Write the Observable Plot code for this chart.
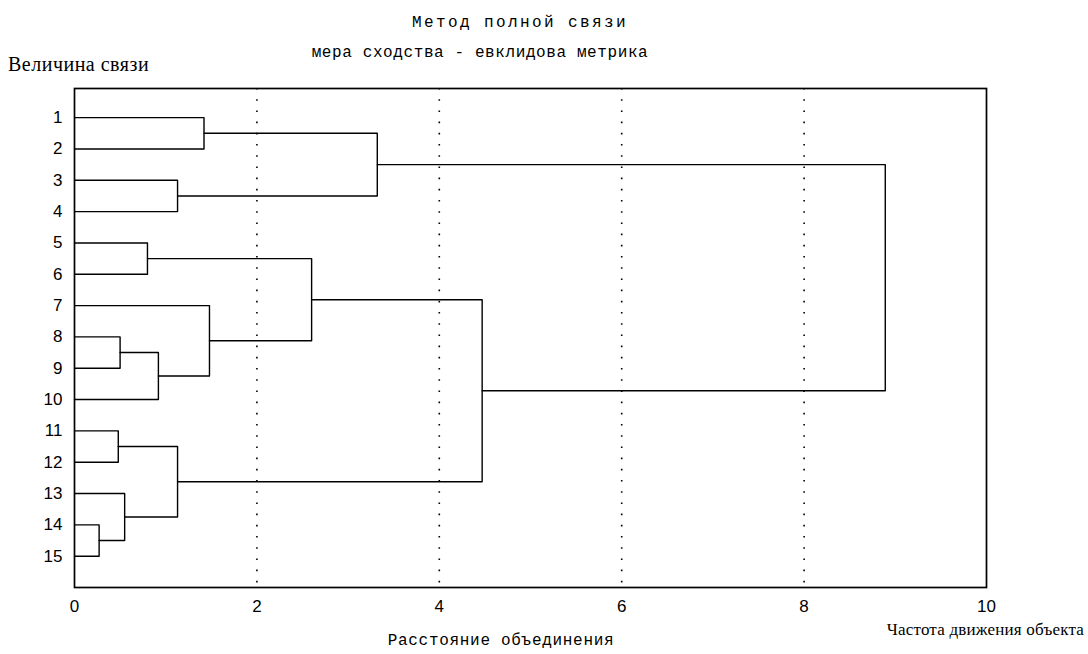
<!DOCTYPE html>
<html>
<head>
<meta charset="utf-8">
<script src="https://cdn.jsdelivr.net/npm/d3@7"></script>
<script src="https://cdn.jsdelivr.net/npm/@observablehq/plot@0.6"></script>
<style>
  html, body { margin: 0; padding: 0; background: #fff; }
  #chart { width: 1088px; height: 654px; }
</style>
</head>
<body>
<div id="chart"></div>
<script>
// Leaves (objects) listed top to bottom
const leaves = [1, 2, 3, 4, 5, 6, 7, 8, 9, 10, 11, 12, 13, 14, 15];
// Linkage steps: each joins two clusters (leaf number or "m<k>" for an earlier merge) at a distance
const mergeIds    = ["m1", "m2", "m3", "m4", "m5", "m6", "m7", "m8", "m9", "m10", "m11", "m12", "m13", "m14"];
const mergeLeft   = [8,    14,   11,   13,   5,    "m1", 3,    "m3", 1,    7,     "m5",  "m9",  "m11", "m12"];
const mergeRight  = [9,    15,   12,   "m2", 6,    10,   4,    "m4", 2,    "m6",  "m10", "m7",  "m8",  "m13"];
const mergeHeight = [0.50, 0.27, 0.48, 0.55, 0.80, 0.92, 1.13, 1.13, 1.42, 1.48,  2.60,  3.32,  4.47,  8.89];
const xTicks = [0, 2, 4, 6, 8, 10];
const gridX = [2, 4, 6, 8];

const title = "Метод полной связи";
const subtitle = "мера сходства - евклидова метрика";
const xLabel = "Расстояние объединения";
const yTitle = "Величина связи";
const xNote = "Частота движения объекта";

// Build dendrogram "U" shapes from the linkage
const nodes = new Map();
leaves.forEach((l, i) => nodes.set(l, {h: 0, y: i + 1}));
const segs = [];
mergeIds.forEach((id, k) => {
  const a = nodes.get(mergeLeft[k]), b = nodes.get(mergeRight[k]);
  const h = mergeHeight[k];
  segs.push({id, h: a.h, y: a.y});
  segs.push({id, h: h, y: a.y});
  segs.push({id, h: h, y: b.y});
  segs.push({id, h: b.h, y: b.y});
  nodes.set(id, {h, y: (a.y + b.y) / 2});
});

const plot = Plot.plot({
  width: 1088,
  height: 654,
  marginLeft: 74,
  marginRight: 102,
  marginTop: 88,
  marginBottom: 67,
  style: {fontFamily: "'Liberation Sans', Arial, sans-serif", fontSize: "17px", color: "#000", background: "#fff"},
  x: {domain: [0, 10]},
  y: {domain: [0.07, 16], reverse: true},
  marks: [
    Plot.ruleX(gridX, {stroke: "#000", strokeWidth: 1.6, strokeDasharray: "1.6,9.6"}),
    Plot.line(segs, {x: "h", y: "y", z: "id", stroke: "#000", strokeWidth: 1.4}),
    Plot.frame({stroke: "#000", strokeWidth: 1.7}),
    Plot.axisX({ticks: xTicks, tickSize: 0, tickPadding: 12, tickFormat: d => d, label: null, fontSize: 17}),
    Plot.axisY({ticks: leaves, tickSize: 0, tickPadding: 12, tickFormat: d => d, label: null, fontSize: 17})
  ]
});
document.getElementById("chart").appendChild(plot);

// Titles and notes, placed at baselines
const svg = d3.select(plot);
const mono = "'Liberation Mono', 'DejaVu Sans Mono', monospace";
const serif = "'Liberation Serif', 'DejaVu Serif', serif";
function addText(txt, x, y, anchor, family, size, spacing) {
  svg.append("text").text(txt)
    .attr("x", x).attr("y", y)
    .attr("text-anchor", anchor)
    .attr("font-family", family)
    .attr("font-size", size)
    .attr("letter-spacing", spacing)
    .attr("fill", "#000");
}
addText(title, 520, 27, "middle", mono, 16, 2.4);
addText(subtitle, 480, 57, "middle", mono, 16, 0.6);
addText(xLabel, 501, 645, "middle", mono, 16, 0.7);
addText(yTitle, 8, 71, "start", serif, 20, 0.5);
addText(xNote, 1084, 635, "end", serif, 17, 0.2);
</script>
</body>
</html>
